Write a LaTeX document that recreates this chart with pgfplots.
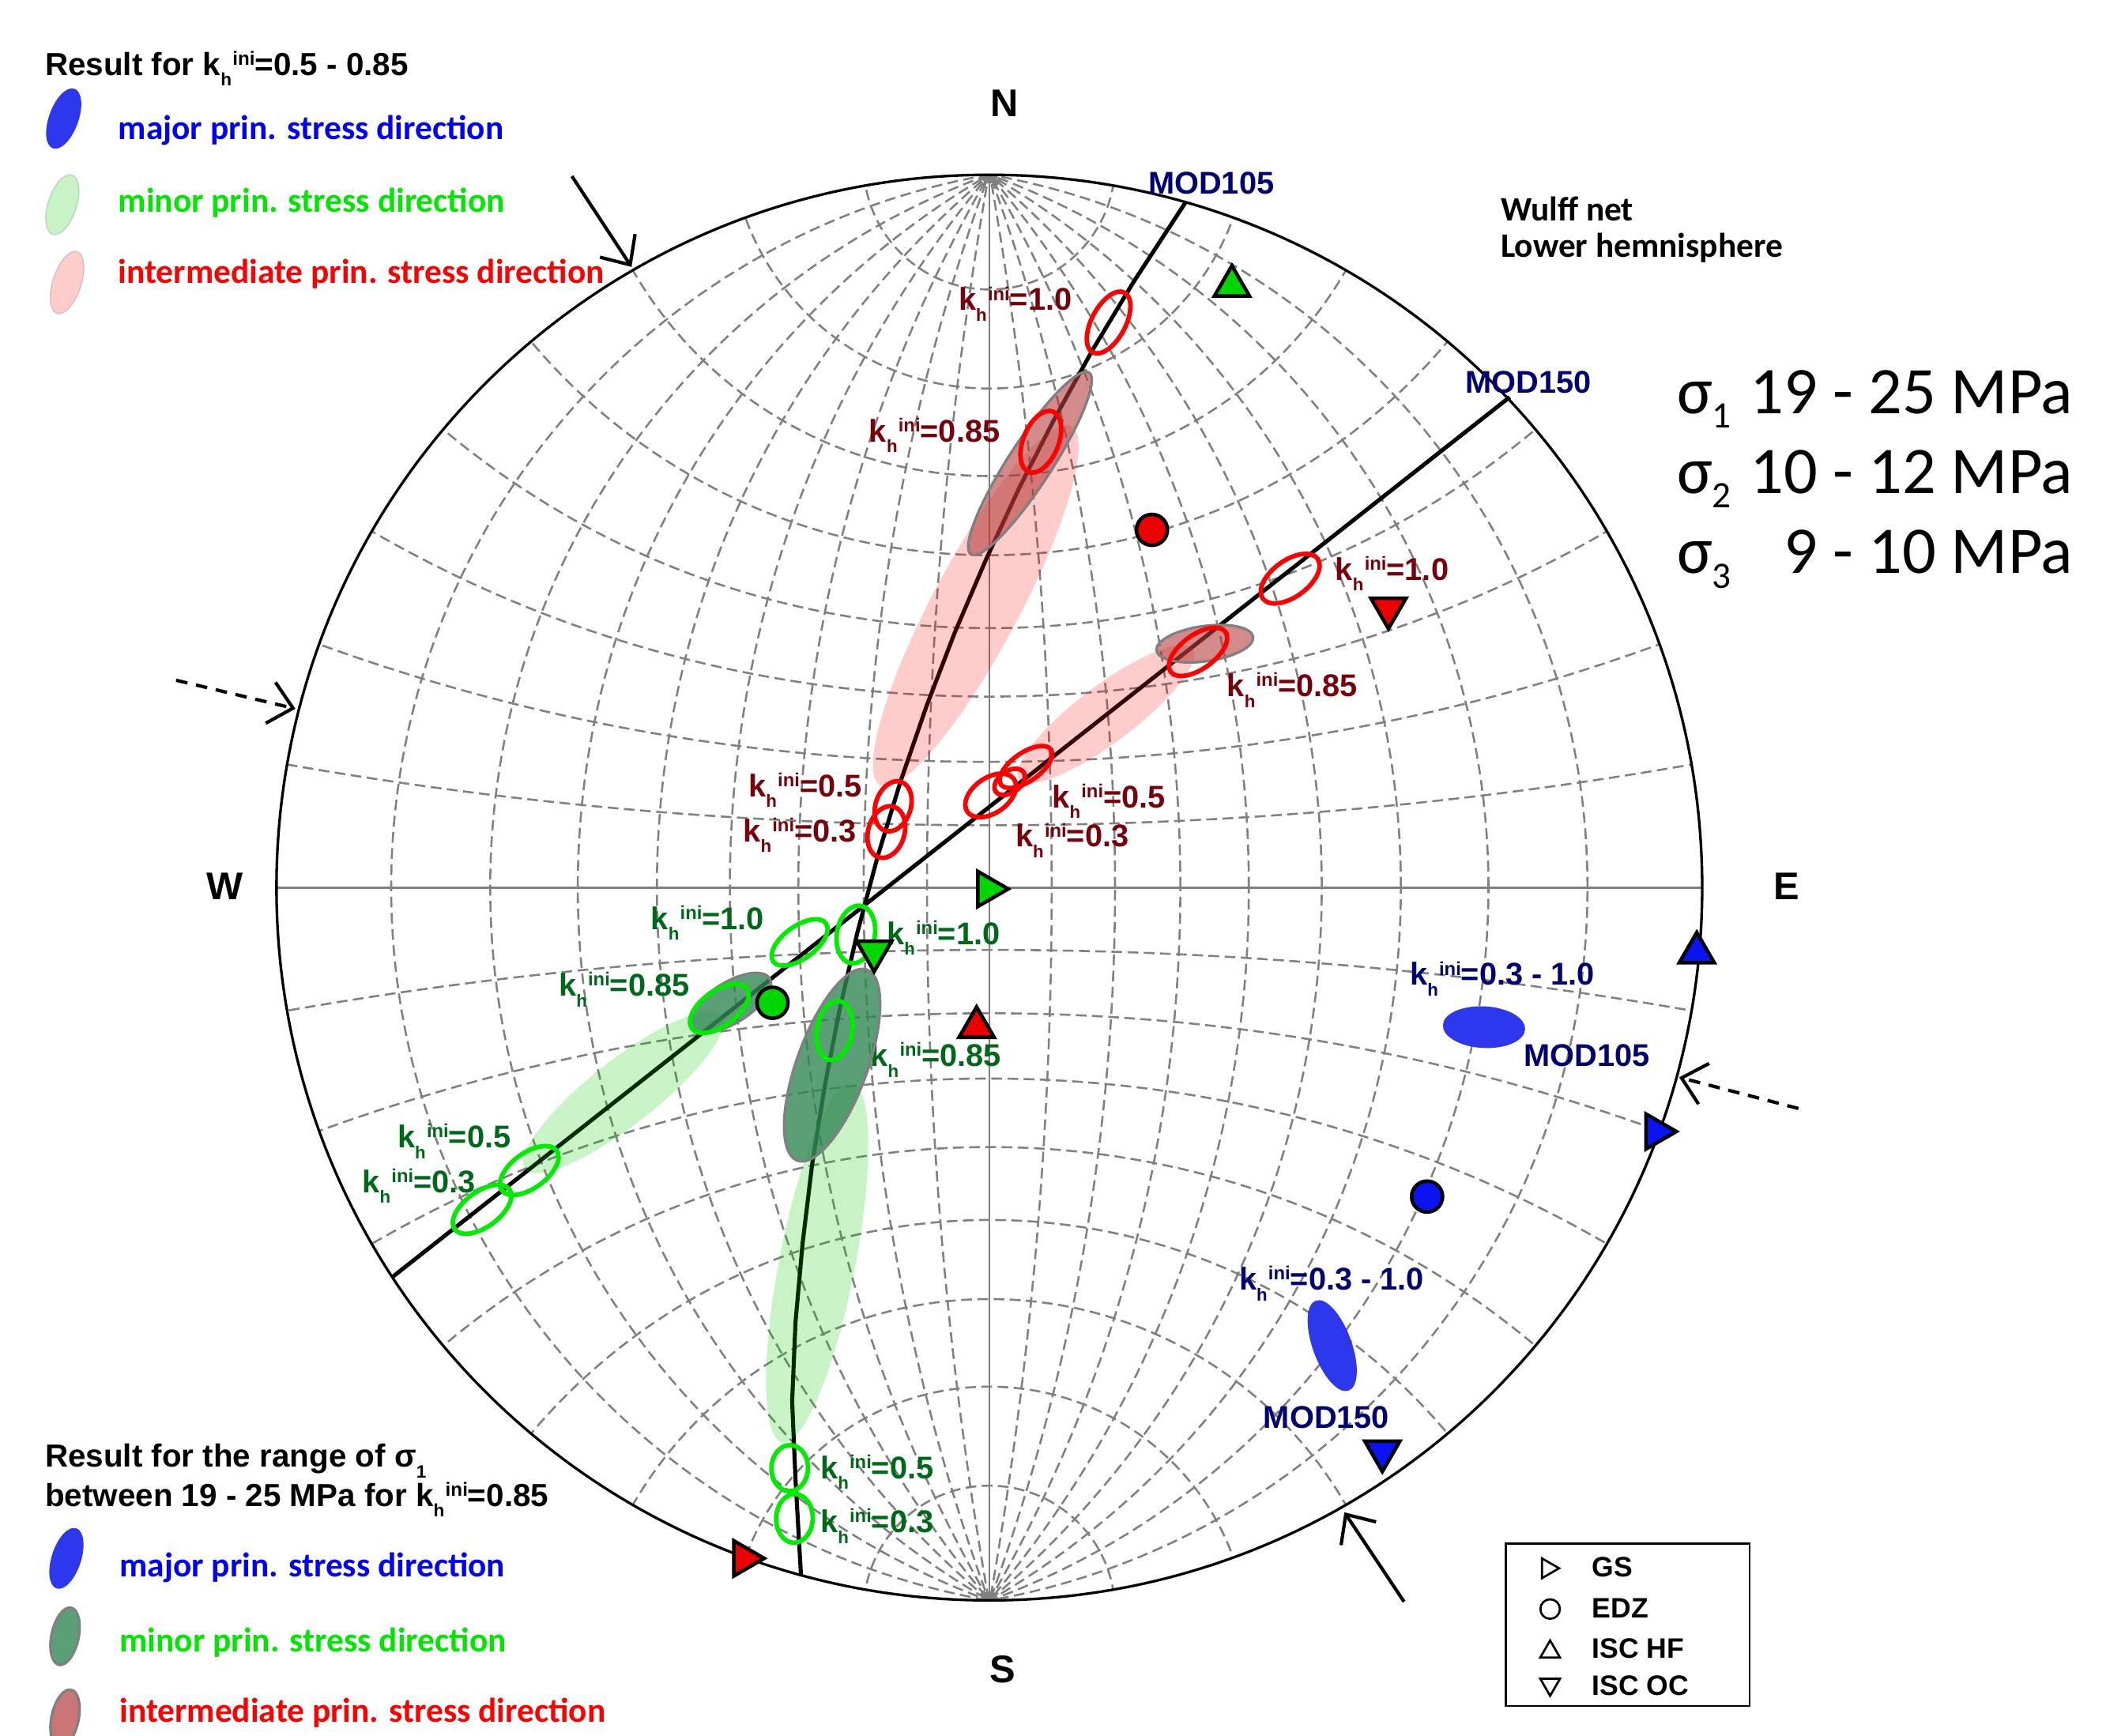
\documentclass[border=0pt]{standalone}
\usepackage{pgfplots}
\pgfplotsset{compat=1.18}
\usepackage{graphicx}
\usepackage{fontspec}
\setmainfont{Liberation Sans}
\newfontfamily\cali{Carlito}
\usetikzlibrary{arrows.meta}

\definecolor{dred}{RGB}{120,0,10}
\definecolor{dgreen}{RGB}{0,105,25}
\definecolor{navy}{RGB}{0,0,115}
\definecolor{txtblue}{RGB}{0,0,255}
\definecolor{txtgreen}{RGB}{0,230,0}
\definecolor{txtred}{RGB}{255,0,0}
\definecolor{mkgreen}{RGB}{0,215,0}
\definecolor{mkred}{RGB}{235,0,0}
\definecolor{mkblue}{RGB}{10,20,240}
\definecolor{netgray}{RGB}{128,128,128}
\definecolor{palegreen}{RGB}{0,200,0}
\definecolor{dkgreen}{RGB}{50,135,85}
\definecolor{dkred}{RGB}{180,60,60}
\definecolor{eblue}{RGB}{45,55,235}
\definecolor{olgreen}{RGB}{0,235,0}

\newcommand{\kini}{k\raisebox{-0.34em}{\scalebox{0.56}{h}}\hspace{0.03em}\raisebox{0.32em}{\scalebox{0.6}{ini}}}
\newcommand{\sone}[1]{\raisebox{-0.34em}{\scalebox{0.56}{#1}}}
\newcommand{\bsig}[1]{\raisebox{-0.22em}{\scalebox{0.56}{#1}}}
% filled ellipse drawn as a transformed mark: #1 style, #2 x, #3 y, #4 semi-major, #5 semi-minor, #6 angle
\newcommand{\Ell}[6]{\addplot[only marks, mark=*, mark size={#5*0.56905pt}, mark options={#1, rotate=#6, xscale={#4/#5}}] coordinates {(#2,#3)};}
% outline ellipse
\newcommand{\Elo}[6]{\addplot[only marks, mark=o, mark size={#5*0.56905pt}, mark options={draw=#1, line width=1.9pt, rotate=#6, xscale={#4/#5}}] coordinates {(#2,#3)};}
% marker: #1 mark, #2 rotate, #3 size, #4 fill, #5 x, #6 y
\newcommand{\Mk}[6]{\addplot[only marks, mark=#1, mark size=#3pt, mark options={rotate=#2, fill=#4, draw=black, line width=1.5pt}] coordinates {(#5,#6)};}

\tikzset{
  netdash/.style={netgray, line width=0.85pt, dash pattern=on 4.5pt off 2.3pt},
  lab/.style={anchor=base west, inner sep=0pt, font=\bfseries\fontsize{13.2}{15}\selectfont},
  leg/.style={anchor=base west, inner sep=0pt, font=\cali\bfseries\fontsize{14.4}{16}\selectfont},
}

\begin{document}
\begin{tikzpicture}
\useasboundingbox (0,0) rectangle (313.6mm,256.2mm);
% Wulff net (grid of the projection)
\begin{scope}[shift={(146mm,125.2mm)}]
  \begin{scope}
    \clip (0,0) circle[radius=105.2mm];
    \foreach \k in {1,...,8}{
      \pgfmathsetmacro{\cc}{105.2*cot(10*\k)}
      \pgfmathsetmacro{\rr}{105.2/sin(10*\k)}
      \pgfmathsetmacro{\sc}{105.2/cos(10*\k)}
      \pgfmathsetmacro{\sr}{105.2*tan(10*\k)}
      \draw[netdash] (-\cc mm,0mm) circle[radius=\rr mm];
      \draw[netdash] (\cc mm,0mm) circle[radius=\rr mm];
      \draw[netdash] (0mm,\sc mm) circle[radius=\sr mm];
      \draw[netdash] (0mm,-\sc mm) circle[radius=\sr mm];
    }
    \fill[netgray] (0mm,105.2mm) circle[radius=1.3mm];
    \fill[netgray] (0mm,-105.2mm) circle[radius=1.3mm];
  \end{scope}
  \draw[netgray, line width=0.9pt] (-105.2mm,0mm) -- (105.2mm,0mm);
  \draw[netgray, line width=0.9pt] (0mm,-105.2mm) -- (0mm,105.2mm);
  \draw[black, line width=1.1pt] (0,0) circle[radius=105.2mm];
\end{scope}

\begin{axis}[at={(0,0)}, anchor=south west, scale only axis,
  width=313.6mm, height=256.2mm,
  xmin=0, xmax=1568, ymin=0, ymax=1281, y dir=reverse,
  hide axis, clip=false]

% pale result regions
\Ell{draw opacity=0, fill=red, fill opacity=0.2}{720}{447}{150}{32}{62}
\Ell{draw opacity=0, fill=red, fill opacity=0.2}{816}{527}{80}{21}{37}
\Ell{draw opacity=0, fill=palegreen, fill opacity=0.22}{460}{806}{92}{24}{38}
\Ell{draw opacity=0, fill=palegreen, fill opacity=0.22}{603}{932}{135}{28}{79}
% sigma1 range regions
\Ell{draw=netgray, line width=1.1pt, fill=dkred, fill opacity=0.6}{760}{342}{80}{16}{57}
\Ell{draw=netgray, line width=1.1pt, fill=dkred, fill opacity=0.6}{889}{475}{36}{13}{8}
\Ell{draw=netgray, line width=1.1pt, fill=dkgreen, fill opacity=0.8}{614}{786}{75}{26}{70}
\Ell{draw=netgray, line width=1.1pt, fill=dkgreen, fill opacity=0.8}{539}{740}{34}{15}{32}
\Ell{draw=eblue, line width=0.4pt, fill=eblue}{1095}{758}{30}{15}{-3}
\Ell{draw=eblue, line width=0.4pt, fill=eblue}{983}{993}{35}{14}{-70}

% MOD105 and MOD150 traces
\addplot[black, line width=1.7pt] coordinates {(875,149) (836.7,207.6) (806.6,257.5) (778.4,308.4) (751.9,360.3) (727.4,413.2) (704.5,466.8) (683.6,521.2) (664.6,576.3) (647.6,632) (632.6,688.3) (619.5,745) (608.4,802.3) (599.2,859.7) (592.2,917.6) (587,975.5) (584.5,1034) (587,1092) (591,1162)};
\addplot[black, line width=1.7pt] coordinates {(1114,293) (290,942)};

% red outline ellipses
\Elo{red}{818}{238}{25}{12.5}{62}
\Elo{red}{768}{326}{24}{13}{68}
\Elo{red}{659}{595}{19}{13}{72}
\Elo{red}{654}{614}{19.5}{13.4}{74}
\Elo{red}{952}{427}{25}{13.5}{36}
\Elo{red}{884}{481}{25}{12.5}{36}
\Elo{red}{757}{566}{22.5}{10.5}{35}
\Elo{red}{745}{577}{12.5}{8}{35}
\Elo{red}{731}{587}{21}{13}{35}
% green outline ellipses
\Elo{olgreen}{590}{695.5}{24}{12}{36}
\Elo{olgreen}{631.5}{689.6}{21.5}{14}{80}
\Elo{olgreen}{530.7}{744.2}{25}{13}{36}
\Elo{olgreen}{390.5}{863.8}{25}{13}{36}
\Elo{olgreen}{355.7}{892.4}{25}{13}{36}
\Elo{olgreen}{615.8}{760.5}{22}{13}{80}
\Elo{olgreen}{582.7}{1083.4}{17}{13.5}{88}
\Elo{olgreen}{586.2}{1120.5}{18}{13.5}{88}

% measured stress directions
\Mk{triangle*}{0}{8.5}{mkgreen}{909}{211}
\Mk{triangle*}{-90}{8.5}{mkgreen}{729}{656}
\Mk{triangle*}{180}{8.5}{mkgreen}{645}{702}
\Mk{*}{0}{6.5}{mkgreen}{570}{740}
\Mk{*}{0}{6.5}{mkred}{850}{391}
\Mk{triangle*}{180}{8.5}{mkred}{1024.5}{449}
\Mk{triangle*}{0}{8.5}{mkred}{720.6}{758}
\Mk{triangle*}{-90}{8.5}{mkred}{549}{1150}
\Mk{triangle*}{0}{8.5}{mkblue}{1252}{703}
\Mk{triangle*}{-90}{8.5}{mkblue}{1222}{835}
\Mk{*}{0}{6.5}{mkblue}{1053}{883}
\Mk{triangle*}{180}{8.5}{mkblue}{1020}{1071}

% labels on the net
\node[lab, dred] at (axis cs:707,229) {\kini=1.0};
\node[lab, dred] at (axis cs:641,326) {\kini=0.85};
\node[lab, dred] at (axis cs:985,428) {\kini=1.0};
\node[lab, dred] at (axis cs:905,514) {\kini=0.85};
\node[lab, dred] at (axis cs:776,596) {\kini=0.5};
\node[lab, dred] at (axis cs:749,625) {\kini=0.3};
\node[lab, dred] at (axis cs:552,588) {\kini=0.5};
\node[lab, dred] at (axis cs:548,621) {\kini=0.3};
\node[lab, dgreen] at (axis cs:480,686) {\kini=1.0};
\node[lab, dgreen] at (axis cs:654,697) {\kini=1.0};
\node[lab, dgreen] at (axis cs:412,735) {\kini=0.85};
\node[lab, dgreen] at (axis cs:642,787) {\kini=0.85};
\node[lab, dgreen] at (axis cs:293,847) {\kini=0.5};
\node[lab, dgreen] at (axis cs:267,880) {\kini=0.3};
\node[lab, dgreen] at (axis cs:605,1091) {\kini=0.5};
\node[lab, dgreen] at (axis cs:605,1131) {\kini=0.3};
\node[lab, navy] at (axis cs:847,143) {MOD105};
\node[lab, navy] at (axis cs:1081,290) {MOD150};
\node[lab, navy] at (axis cs:1040,727) {\kini=0.3 - 1.0};
\node[lab, navy] at (axis cs:1124,787) {MOD105};
\node[lab, navy] at (axis cs:914,952) {\kini=0.3 - 1.0};
\node[lab, navy] at (axis cs:932,1054) {MOD150};

% compass letters
\node[font=\bfseries\fontsize{16.2}{18}\selectfont, inner sep=0pt] at (axis cs:741,76) {N};
\node[font=\bfseries\fontsize{16.2}{18}\selectfont, inner sep=0pt] at (axis cs:740,1232) {S};
\node[font=\bfseries\fontsize{16.2}{18}\selectfont, inner sep=0pt] at (axis cs:166,654) {W};
\node[font=\bfseries\fontsize{16.2}{18}\selectfont, inner sep=0pt] at (axis cs:1318,654) {E};

% arrows
\draw[black, line width=1.4pt, -{Straight Barb[length=3.4mm, width=6.2mm]}] (axis cs:422,130) -- (axis cs:466,197);
\draw[black, line width=1.4pt, -{Straight Barb[length=3.4mm, width=6.2mm]}] (axis cs:1036,1182) -- (axis cs:992,1116);
\draw[black, line width=1.4pt, dash pattern=on 1.7mm off 1.3mm, -{Straight Barb[length=3.4mm, width=6.2mm]}] (axis cs:130,502) -- (axis cs:218,523);
\draw[black, line width=1.4pt, dash pattern=on 1.7mm off 1.3mm, -{Straight Barb[length=3.4mm, width=6.2mm]}] (axis cs:1327,818) -- (axis cs:1239,795);

% top-left legend
\node[anchor=base west, inner sep=0pt, font=\bfseries\fontsize{13.4}{15}\selectfont] at (axis cs:33,55.4) {Result for \kini=0.5 - 0.85};
\Ell{draw=eblue, line width=0.4pt, fill=eblue}{47}{87.5}{23}{10.5}{70}
\Ell{draw=netgray, draw opacity=0.3, line width=0.5pt, fill=palegreen, fill opacity=0.22}{46}{151}{23}{10.5}{72}
\Ell{draw=netgray, draw opacity=0.3, line width=0.5pt, fill=red, fill opacity=0.2}{49.5}{208.5}{24}{10.5}{72}
\node[leg, txtblue] at (axis cs:87,103) {major prin. stress direction};
\node[leg, txtgreen] at (axis cs:87,156.5) {minor prin. stress direction};
\node[leg, txtred] at (axis cs:87,209) {intermediate prin. stress direction};

% bottom-left legend
\node[anchor=base west, inner sep=0pt, font=\bfseries\fontsize{13.4}{15}\selectfont] at (axis cs:33,1082.6) {Result for the range of σ\sone{1}};
\node[anchor=base west, inner sep=0pt, font=\bfseries\fontsize{13.4}{15}\selectfont] at (axis cs:33,1111.4) {between 19 - 25 MPa for \kini=0.85};
\Ell{draw=eblue, line width=0.4pt, fill=eblue}{49}{1150}{23}{10.5}{72}
\Ell{draw=netgray, line width=1.1pt, fill=dkgreen, fill opacity=0.8}{48}{1207.5}{21.5}{10}{78}
\Ell{draw=netgray, line width=1.1pt, fill=dkred, fill opacity=0.7}{48}{1268}{21.5}{10}{78}
\node[leg, txtblue] at (axis cs:88,1163.3) {major prin. stress direction};
\node[leg, txtgreen] at (axis cs:88,1218.7) {minor prin. stress direction};
\node[leg, txtred] at (axis cs:88,1271) {intermediate prin. stress direction};

% top-right notes
\node[leg, black] at (axis cs:1107,163) {Wulff net};
\node[leg, black] at (axis cs:1107,190) {Lower hemnisphere};
\node[anchor=base west, inner sep=0pt, font=\cali\fontsize{28}{30}\selectfont] at (axis cs:1237,305) {σ\bsig{1}};
\node[anchor=base east, inner sep=0pt, font=\cali\fontsize{28}{30}\selectfont] at (axis cs:1530,305) {19 - 25 MPa};
\node[anchor=base west, inner sep=0pt, font=\cali\fontsize{28}{30}\selectfont] at (axis cs:1237,364) {σ\bsig{2}};
\node[anchor=base east, inner sep=0pt, font=\cali\fontsize{28}{30}\selectfont] at (axis cs:1530,364) {10 - 12 MPa};
\node[anchor=base west, inner sep=0pt, font=\cali\fontsize{28}{30}\selectfont] at (axis cs:1237,423) {σ\bsig{3}};
\node[anchor=base east, inner sep=0pt, font=\cali\fontsize{28}{30}\selectfont] at (axis cs:1530,423) {9 - 10 MPa};

% symbol legend
\draw[black, line width=0.8pt] (axis cs:1111,1139) rectangle (axis cs:1291,1259);
\addplot[only marks, mark=triangle, mark size=4.8pt, mark options={rotate=-90, draw=black, line width=0.9pt}] coordinates {(1142,1157.3)};
\addplot[only marks, mark=o, mark size=4.1pt, mark options={draw=black, line width=0.9pt}] coordinates {(1143.8,1187.4)};
\addplot[only marks, mark=triangle, mark size=4.8pt, mark options={draw=black, line width=0.9pt}] coordinates {(1143.8,1219)};
\addplot[only marks, mark=triangle, mark size=4.8pt, mark options={rotate=180, draw=black, line width=0.9pt}] coordinates {(1143.8,1243)};
\node[anchor=base west, inner sep=0pt, font=\bfseries\fontsize{11.8}{13}\selectfont] at (axis cs:1174.5,1163.6) {GS};
\node[anchor=base west, inner sep=0pt, font=\bfseries\fontsize{11.8}{13}\selectfont] at (axis cs:1174.5,1193.7) {EDZ};
\node[anchor=base west, inner sep=0pt, font=\bfseries\fontsize{11.8}{13}\selectfont] at (axis cs:1174.5,1223.8) {ISC HF};
\node[anchor=base west, inner sep=0pt, font=\bfseries\fontsize{11.8}{13}\selectfont] at (axis cs:1174.5,1251) {ISC OC};
\end{axis}
\end{tikzpicture}
\end{document}
